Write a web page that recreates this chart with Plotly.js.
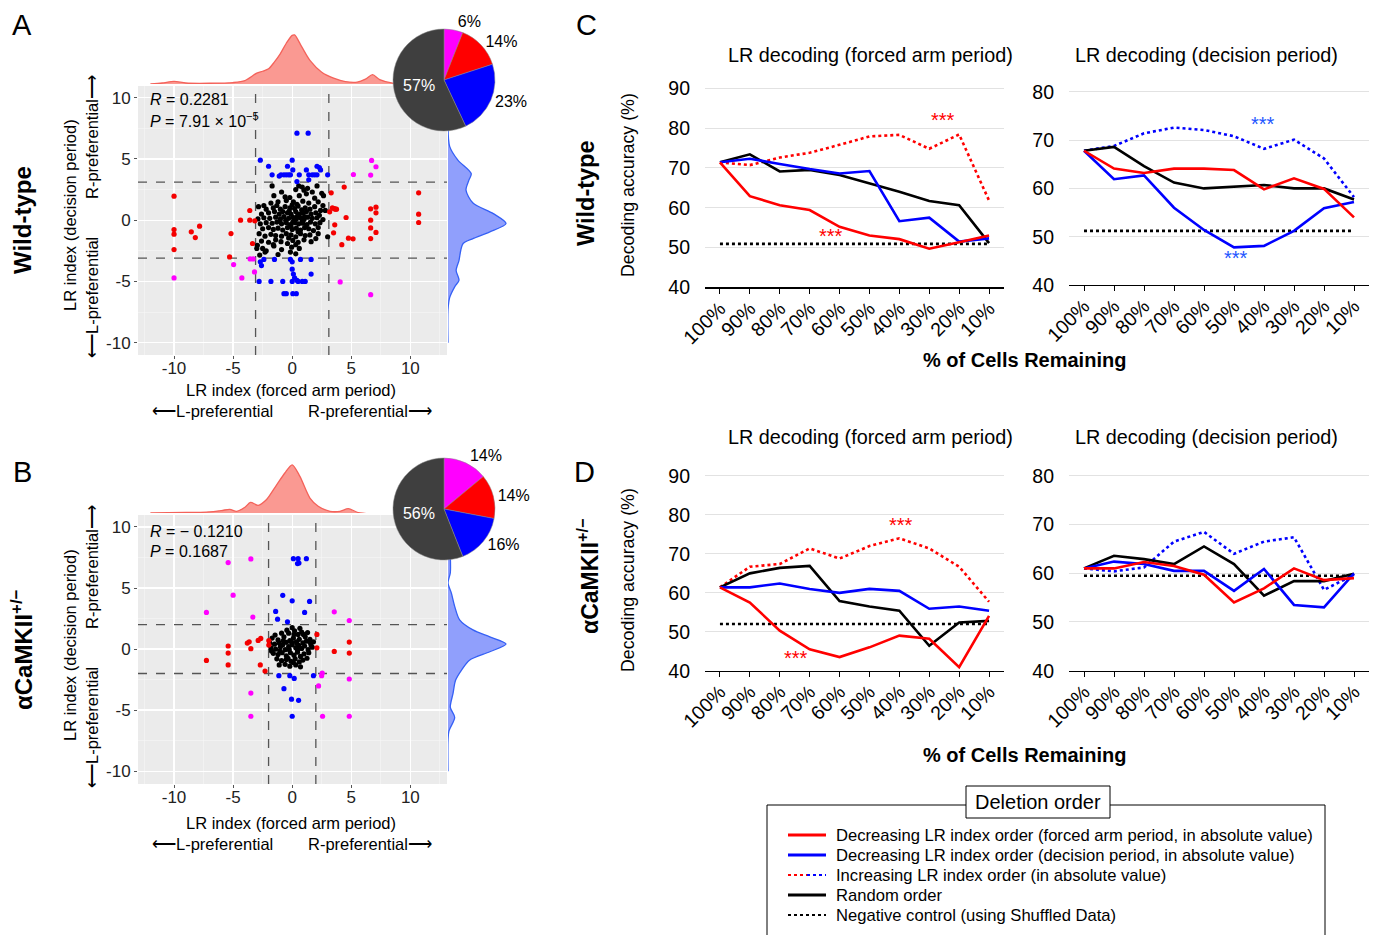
<!DOCTYPE html>
<html><head><meta charset="utf-8">
<script src="https://cdn.plot.ly/plotly-3.0.1.min.js"></script>
<style>html,body{margin:0;padding:0;background:#fff}#chart{width:1376px;height:935px}</style>
</head><body><div id="chart"></div>
<script>
// ---------------- DATA ----------------
const pctLabels = ['100%','90%','80%','70%','60%','50%','40%','30%','20%','10%'];
const yTicksFA = [40,50,60,70,80,90];
const yTicksDP = [40,50,60,70,80];
const scatterTicks = [-10,-5,0,5,10];
const scatterTickText = ['-10','-5','0','5','10'];

// Wild-type, LR decoding (forced arm period)
const wtFA_decFA = [71.4,62.9,60.6,59.4,55.2,53.0,52.1,49.7,51.3,53.0];
const wtFA_decDP = [71.4,72.3,71.0,69.7,68.6,69.2,56.6,57.5,51.5,52.3];
const wtFA_inc   = [71.4,70.7,72.6,73.8,75.8,77.9,78.3,74.8,78.4,61.8];
const wtFA_rand  = [71.4,73.4,69.1,69.5,68.2,66.1,64.0,61.7,60.6,51.1];
const wtFA_shuf  = [50.9,50.9,50.9,50.9,50.9,50.9,50.9,50.9,50.9,50.9];
const wtFA_sig   = [[7.46,82.0],[3.73,53.0]];
// Wild-type, LR decoding (decision period)
const wtDP_decFA = [67.8,64.1,63.2,64.1,64.1,63.8,59.8,62.1,59.9,54.0];
const wtDP_decDP = [67.8,61.9,62.7,56.0,51.4,47.8,48.1,51.2,55.9,57.2];
const wtDP_inc   = [67.8,68.8,71.4,72.6,72.1,70.8,68.2,70.1,66.2,58.2];
const wtDP_rand  = [67.8,68.6,64.6,61.2,60.0,60.3,60.7,60.0,60.0,57.7];
const wtDP_shuf  = [51.2,51.2,51.2,51.2,51.2,51.2,51.2,51.2,51.2,51.2];
const wtDP_sig   = [[5.96,73.4],[5.07,45.6]];
// aCaMKII+/-, LR decoding (forced arm period)
const koFA_decFA = [61.4,57.5,50.3,45.5,43.5,46.0,49.0,48.2,40.9,54.1];
const koFA_decDP = [61.4,61.4,62.4,61.0,60.0,61.0,60.5,55.9,56.5,55.4];
const koFA_inc   = [61.4,66.7,67.4,71.4,68.8,72.0,74.0,71.4,66.7,57.7];
const koFA_rand  = [61.4,65.0,66.4,66.9,57.9,56.5,55.4,46.4,52.4,52.8];
const koFA_shuf  = [52.0,52.0,52.0,52.0,52.0,52.0,52.0,52.0,52.0,52.0];
const koFA_sig   = [[6.04,77.4],[2.56,43.2]];
// aCaMKII+/-, LR decoding (decision period)
const koDP_decFA = [61.0,61.0,62.3,61.5,59.7,54.0,56.9,61.0,58.6,59.0];
const koDP_decDP = [61.0,62.4,61.9,60.5,60.5,56.4,60.9,53.5,53.0,60.0];
const koDP_inc   = [61.0,60.4,61.2,66.5,68.5,64.0,66.5,67.4,56.6,59.7];
const koDP_rand  = [61.0,63.6,62.9,61.9,65.5,61.9,55.4,58.4,58.4,59.9];
const koDP_shuf  = [59.5,59.5,59.5,59.5,59.5,59.5,59.5,59.5,59.5,59.5];

// Pie charts
const pieCats = ['Both','Forced arm only','Decision only','Neither'];
const wtPie = [6,14,23,57];
const koPie = [14,14,16,56];

// Thresholds of LR index
const wtThr = 3.1;
const koThr = 2.0;

// Wild-type LR index scatter [forced arm, decision]
const wtBlue = [[0.4,7.1],[1.35,7.1],[-2.7,4.9],[0,4.9],[-2.0,4.4],[-0.4,4.4],[0.05,4.1],[1.2,4.1],[2.1,4.4],[2.3,4.3],[2.4,4.1],
 [-1.7,3.7],[-1.1,3.6],[-0.95,3.7],[-0.7,3.7],[-0.5,3.7],[-0.3,3.7],[-0.15,3.7],[0.6,3.7],[1.4,3.7],[1.7,3.7],[1.9,3.7],[2.1,3.7],[3.0,3.7],[0.4,3.15],[1.4,3.3],
 [-2.4,-3.2],[-1.5,-3.2],[-0.15,-3.2],[0,-3.4],[0.7,-3.2],[1.6,-3.2],[-2.7,-3.4],[-2.6,-3.7],[0,-4.0],[0.1,-4.4],[0.2,-4.7],[0.4,-4.9],[1.6,-4.4],
 [-2.8,-5.0],[-1.8,-5.0],[-0.8,-5.0],[0,-5.0],[0.5,-5.0],[0.85,-5.0],[1.1,-5.0],[-0.7,-6.0],[-0.5,-6.0],[0.05,-6.0],[0.35,-6.0]];
const wtRed = [[-10,1.96],[-10,-0.76],[-10,-1.14],[-10,-2.4],[-8.54,-0.95],[-8.2,-1.42],[-7.84,-0.49],[-5.18,-1.09],[-5.3,-3.0],[-4.37,0],[-3.59,0.79],[-3.59,0],[-3.17,-0.05],[-3.36,-1.9],
 [3.3,2.23],[4.4,2.7],[3.4,1.0],[3.55,0.95],[3.65,0.9],[3.75,0.9],[3.17,0.68],[3.6,-0.38],[4.56,0.22],[3.5,-1.03],[4.2,-2.0],[4.76,-1.47],[5.15,-1.52],
 [6.64,0.93],[7.09,1.06],[7.09,0.6],[6.64,0],[6.64,-0.63],[6.64,-1.5],[7.09,-1.0],[10.7,2.23],[10.7,0.49],[10.7,-0.19]];
const wtMagenta = [[6.72,4.88],[7.09,4.36],[6.64,3.68],[5.18,3.73],[-10,-4.71],[-4.96,-3.62],[-4.26,-4.71],[-3.19,-4.22],[-3.56,-3.16],[-3.3,-3.16],[4.06,-5.04],[6.64,-6.08]];
const wtBlack = [[-1.7,2.8],[0.55,2.8],[0.85,2.7],[2.1,2.8],[1.3,2.6],[-0.9,2.3],[1.0,2.45],[1.7,2.3],[0.3,2.5],[2.5,2.2],
 [-1.55,2.0],[-0.2,1.85],[1.2,2.15],[2.65,2.0],[0.6,2.0],[-0.6,1.9],[1.9,1.8],
 [-1.8,1.4],[-1.2,1.5],[-0.5,1.6],[0.1,1.5],[0.4,1.3],[0.9,1.55],[1.4,1.4],[2.2,1.5],[-2.4,1.2],[2.6,1.2],
 [-2.85,1.1],[-2.2,0.9],[-1.6,1.0],[-1.0,0.9],[-0.6,1.1],[-0.2,1.0],[0.2,0.95],[0.5,1.15],[0.8,0.85],[1.1,1.0],[1.5,0.9],[1.9,1.1],[2.4,0.8],[2.8,0.8],[-1.3,1.2],[0.0,1.25],
 [-2.6,0.5],[-2.0,0.6],[-1.5,0.7],[-1.1,0.5],[-0.8,0.7],[-0.4,0.6],[-0.1,0.5],[0.3,0.7],[0.6,0.5],[0.9,0.6],[1.2,0.7],[1.6,0.5],[2.0,0.6],[2.3,0.4],[-0.25,0.75],[0.45,0.35],[1.05,0.3],
 [-2.9,0.1],[-2.4,0.2],[-1.9,0.15],[-1.4,0.25],[-1.0,0.1],[-0.7,0.3],[-0.3,0.15],[0.05,0.25],[0.35,0.1],[0.7,0.2],[1.0,0.05],[1.3,0.25],[1.7,0.15],[2.1,0.2],[2.6,0.05],[-0.55,0.0],[0.15,-0.05],[0.85,-0.05],
 [-2.7,-0.3],[-2.2,-0.2],[-1.7,-0.25],[-1.3,-0.15],[-0.9,-0.3],[-0.5,-0.2],[-0.15,-0.35],[0.25,-0.2],[0.55,-0.3],[0.9,-0.25],[1.25,-0.35],[1.55,-0.15],[1.95,-0.3],[2.35,-0.2],[0.05,-0.15],[-1.05,-0.05],
 [-2.5,-0.7],[-2.0,-0.6],[-1.6,-0.75],[-1.2,-0.65],[-0.8,-0.8],[-0.4,-0.6],[0.0,-0.75],[0.35,-0.65],[0.7,-0.8],[1.05,-0.6],[1.4,-0.7],[1.8,-0.85],[2.2,-0.6],[-0.1,-0.5],[0.5,-0.95],
 [-2.8,-1.1],[-2.3,-1.3],[-1.8,-1.15],[-1.4,-1.25],[-0.9,-1.3],[-0.5,-1.1],[-0.1,-1.2],[0.3,-1.35],[0.7,-1.1],[1.1,-1.25],[1.5,-1.2],[2.2,-1.1],[3.0,-1.35],[-0.3,-1.45],
 [-2.6,-1.7],[-2.0,-1.8],[-1.4,-1.6],[-0.95,-1.75],[-0.4,-1.9],[0.05,-1.65],[0.5,-1.8],[1.0,-1.6],[1.6,-1.75],[2.0,-1.5],[-1.6,-2.0],
 [-2.95,-2.05],[-2.5,-2.3],[-1.55,-2.1],[-0.9,-2.4],[-0.05,-2.2],[0.6,-2.3],[-2.2,-2.5],[0.3,-2.0],
 [-3.0,-2.3],[-2.75,-2.85],[-2.3,-2.6],[-0.15,-2.6],[0.3,-2.75],[-1.2,-2.8]];

// aCaMKII+/- LR index scatter
const koBlue = [[0.1,7.4],[0.5,7.4],[1.2,7.4],[0.45,7.0],[0.57,7.05],[-0.8,4.4],[0,3.95],[1.47,3.9],[-1.4,3.08],[1.05,3.0],[-1.24,2.45],[-0.4,2.23],
 [-1.13,-2.18],[-0.2,-2.18],[0.17,-2.4],[1.8,-2.18],[-0.7,-3.24],[-0.06,-4.1],[0.54,-4.2],[0,-5.5]];
const koRed = [[-7.26,-0.93],[-5.42,0.25],[-5.42,-0.33],[-5.42,-1.3],[-3.8,0.49],[-3.64,0.6],[-3.5,0.03],[-2.88,0.71],[-2.66,0.87],[-2.7,-1.3],[-2.3,-1.8],
 [-1.98,0.7],[-1.98,0.33],[2.09,1.2],[2.09,0.1],[3.56,-0.19],[4.83,0.57],[4.83,-0.33]];
const koMagenta = [[-5.42,7.08],[-3.5,7.38],[-5.0,4.41],[-7.26,3.0],[-3.33,2.62],[3.56,3.05],[4.83,2.34],[2.54,-1.96],[2.49,-2.18],[2.23,-3.02],[4.83,-2.45],[-3.5,-3.6],[-3.5,-5.5],[2.57,-5.5],[4.83,-5.5]];
const koBlack = [[-1.7,0.9],[-1.2,0.75],[-0.7,1.0],[-0.3,1.3],[0.0,1.75],[0.2,1.5],[0.5,1.2],[0.8,1.4],[1.1,1.0],[1.5,0.8],[1.8,0.6],
 [-1.9,0.5],[-1.5,0.4],[-1.1,0.5],[-0.8,0.35],[-0.5,0.55],[-0.2,0.7],[0.1,0.9],[0.35,0.6],[0.6,0.8],[0.9,0.5],[1.2,0.65],[1.6,0.3],
 [-1.8,0.1],[-1.4,0.0],[-1.0,0.2],[-0.6,-0.05],[-0.3,0.2],[0.0,0.35],[0.3,0.1],[0.55,0.3],[0.8,0.05],[1.05,0.25],[1.35,-0.05],[1.7,0.15],
 [-1.6,-0.35],[-1.2,-0.45],[-0.85,-0.3],[-0.5,-0.55],[-0.15,-0.3],[0.15,-0.5],[0.45,-0.25],[0.7,-0.6],[1.0,-0.4],[1.4,-0.3],
 [-1.3,-0.8],[-0.9,-0.95],[-0.5,-0.85],[-0.1,-1.0],[0.25,-0.8],[0.6,-1.05],[0.9,-0.9],
 [-1.1,-1.3],[-0.6,-1.25],[-0.2,-1.4],[0.3,-1.3],[0.7,-1.45],[0.1,-1.1],
 [-0.45,1.55],[0.65,1.7],[-0.9,1.3],[1.3,1.35],[-1.45,1.15],[0.15,1.2],[-0.05,0.55],[0.45,-0.05],[-0.75,0.7],[1.25,-0.75],[-1.75,-0.15],[-0.35,-0.75],[0.95,1.2],[0.4,0.45],[-0.25,-0.05],[-1.05,-0.15],[1.55,0.5]];

// Marginal densities (relative height, peak = 1)
const wtTopGrid = [-12,-11,-10,-9,-7,-5,-4,-3,-2.5,-2,-1.5,-1,-0.5,0,0.2,0.8,1.5,2.5,3.5,4.5,5.5,6.2,6.8,7.4,8.5,10,10.8,11.5,13];
const wtTopDen  = [0,0.02,0.055,0.02,0.015,0.03,0.07,0.22,0.26,0.31,0.45,0.62,0.83,0.99,1.0,0.76,0.48,0.24,0.12,0.05,0.04,0.1,0.19,0.09,0.02,0.015,0.03,0.01,0];
const wtRightGrid = [7.6,6.0,4.9,3.8,3.27,2.45,1.4,0.54,-0.27,-0.95,-1.5,-1.9,-2.45,-3.27,-4.1,-4.9,-5.4,-6.3,-7.3,-10];
const wtRightDen  = [0,0.03,0.17,0.40,0.36,0.31,0.43,0.78,1.0,0.72,0.43,0.26,0.22,0.19,0.14,0.19,0.12,0.03,0,0];
const koTopGrid = [-12,-9,-7.26,-6,-5.28,-4.7,-4,-3.53,-2.88,-2.17,-1.33,-0.62,0,0.65,1.5,2.2,3.2,4.04,4.75,5.73,13];
const koTopDen  = [0,0.01,0.02,0.05,0.077,0.035,0.12,0.22,0.16,0.28,0.58,0.83,1.0,0.76,0.31,0.14,0.035,0.035,0.09,0,0];
const koRightGrid = [7.6,6.25,5.4,4.6,3.5,2.4,1.57,1.0,0.41,-0.22,-0.91,-1.74,-2.56,-3.65,-4.77,-5.6,-6.7,-7.5,-10];
const koRightDen  = [0.04,0.04,0.0,0.057,0.115,0.2,0.43,0.72,1.0,0.72,0.37,0.23,0.13,0.086,0.04,0.115,0.017,0,0];

// ---------------- LAYOUT HELPERS ----------------
const W = 1376, H = 935;
const FONT = 'Liberation Sans, Arial, Helvetica, sans-serif';
const px = v => v / W;
const py = v => 1 - v / H;
const RED = '#FF0000', BLUE = '#0000FF', MAG = '#FF00FF';

function ann(text, x, y, size, extra) {
  const f = {family: FONT, size: size, color: (extra && extra.color) || '#000'};
  const a = {text, x: px(x), y: py(y), xref: 'paper', yref: 'paper', showarrow: false,
    xanchor: 'center', yanchor: 'middle', font: f};
  if (extra) { for (const k in extra) if (k !== 'color') a[k] = extra[k]; }
  return a;
}

const traces = [];
const layout = {
  width: W, height: H, margin: {l: 0, r: 0, t: 0, b: 0},
  paper_bgcolor: '#fff', plot_bgcolor: 'rgba(0,0,0,0)', showlegend: false,
  font: {family: FONT, color: '#000'}, shapes: [], annotations: []
};

// ---------- scatter panels ----------
const SX_RANGE = [-13.05, 13.1];
function scatterAxes(n, top, bottom, yRange) {
  const sfx = n === 1 ? '' : String(n);
  const common = {
    tickvals: scatterTicks, ticktext: scatterTickText, showgrid: true, gridcolor: '#FFFFFF', gridwidth: 1.3,
    minor: {tickvals: [-12.5,-7.5,-2.5,2.5,7.5,12.5], showgrid: true, gridcolor: '#F6F6F6', gridwidth: 0.6},
    zeroline: false, showline: false, ticks: 'outside', ticklen: 3, tickcolor: '#555',
    tickfont: {family: FONT, size: 17, color: '#222'}, fixedrange: true
  };
  layout['xaxis' + sfx] = Object.assign({}, common, {domain: [px(138), px(447)], range: SX_RANGE, anchor: 'y' + sfx, ticklabelstandoff: -5});
  layout['yaxis' + sfx] = Object.assign({}, common, {domain: [py(bottom), py(top)], range: yRange, anchor: 'x' + sfx, ticklabelstandoff: 0});
}

function scatterPanel(n, top, bottom, yRange, thr, black, blue, red, mag, dens) {
  scatterAxes(n, top, bottom, yRange);
  const sfx = n === 1 ? '' : String(n);
  const xa = 'x' + sfx, ya = 'y' + sfx;
  layout.shapes.push({type: 'rect', xref: 'paper', yref: 'paper', x0: px(138), x1: px(447), y0: py(bottom), y1: py(top),
    fillcolor: '#EBEBEB', line: {width: 0}, layer: 'below'});
  // dashed threshold lines (drawn as traces so points lie above them)
  traces.push({type: 'scatter', mode: 'lines', xaxis: xa, yaxis: ya, hoverinfo: 'skip',
    x: [-thr, -thr, null, thr, thr, null, SX_RANGE[0], SX_RANGE[1], null, SX_RANGE[0], SX_RANGE[1]],
    y: [yRange[0], yRange[1], null, yRange[0], yRange[1], null, -thr, -thr, null, thr, thr],
    line: {color: '#555', width: 1.3, dash: 'dash'}});
  const grp = [[black, '#000000'], [blue, BLUE], [red, '#F40000'], [mag, MAG]];
  grp.forEach(([list, c]) => traces.push({type: 'scatter', mode: 'markers', x: list.map(p => p[0]), y: list.map(p => p[1]),
    xaxis: xa, yaxis: ya, marker: {color: c, size: 5.2}, hoverinfo: 'skip'}));
  // marginal densities
  const tx = 'xaxis' + (n + 1), ty = 'yaxis' + (n + 1), rx = 'xaxis' + (n + 2), ry = 'yaxis' + (n + 2);
  layout[tx] = {domain: [px(138), px(447)], range: SX_RANGE, visible: false, anchor: 'y' + (n + 1), fixedrange: true};
  layout[ty] = {domain: [py(top - 2), py(top - 56)], range: [0, dens.topRange], visible: false, anchor: 'x' + (n + 1), fixedrange: true};
  layout[rx] = {domain: [px(448), px(520)], range: [0, 1.24], visible: false, anchor: 'y' + (n + 2), fixedrange: true};
  layout[ry] = {domain: [py(bottom), py(top)], range: yRange, visible: false, anchor: 'x' + (n + 2), fixedrange: true};
  traces.push({type: 'scatter', mode: 'lines', x: dens.tg, y: dens.td, fill: 'tozeroy', fillcolor: 'rgba(248,110,100,0.7)',
    line: {color: '#F4625A', width: 1.3, shape: 'spline', smoothing: 0.8}, xaxis: 'x' + (n + 1), yaxis: 'y' + (n + 1), hoverinfo: 'skip'});
  traces.push({type: 'scatter', mode: 'lines', x: dens.rd, y: dens.rg, fill: 'tozerox', fillcolor: 'rgba(70,95,250,0.6)',
    line: {color: '#3560F5', width: 1.3, shape: 'spline', smoothing: 0.8}, xaxis: 'x' + (n + 2), yaxis: 'y' + (n + 2), hoverinfo: 'skip'});
}

scatterPanel(1, 86, 355, [-11.0, 10.95], wtThr, wtBlack, wtBlue, wtRed, wtMagenta,
  {tg: wtTopGrid, td: wtTopDen, rg: wtRightGrid, rd: wtRightDen, topRange: 1.1});
scatterPanel(4, 515, 784, [-11.05, 10.98], koThr, koBlack, koBlue, koRed, koMagenta,
  {tg: koTopGrid, td: koTopDen, rg: koRightGrid, rd: koRightDen, topRange: 1.12});

// pies
function pie(vals, top, bottom) {
  traces.push({type: 'pie', values: vals, labels: pieCats, sort: false, direction: 'clockwise', rotation: 0,
    marker: {colors: [MAG, RED, BLUE, '#3F3F3F'], line: {color: '#888', width: 0.5}},
    texttemplate: '%{value}%', textposition: ['outside', 'outside', 'outside', 'inside'],
    insidetextorientation: 'horizontal',
    outsidetextfont: {family: FONT, size: 16, color: '#000'}, insidetextfont: {family: FONT, size: 16, color: '#fff'},
    domain: {x: [px(393), px(495)], y: [py(bottom), py(top)]}, hoverinfo: 'skip', showlegend: false});
}
pie(wtPie, 29, 131);
pie(koPie, 458, 560);

// ---------- line charts ----------
function linePanel(n, xDom, yTop, yBottom, yRange, yTicks, series, dottedColor, sig, sigColor) {
  const xa = 'x' + n, ya = 'y' + n;
  layout['xaxis' + n] = {domain: [px(xDom[0]), px(xDom[1])], type: 'category', categoryarray: pctLabels, range: [-0.5, 9.5],
    showline: true, linecolor: '#000', linewidth: 1.3, ticks: 'outside', ticklen: 5, tickcolor: '#000', tickwidth: 1,
    tickangle: -45, tickfont: {family: FONT, size: 19.5, color: '#000'}, ticklabelstandoff: -4,
    showgrid: false, zeroline: false, anchor: ya, fixedrange: true};
  layout['yaxis' + n] = {domain: [py(yBottom), py(yTop)], range: yRange, tickvals: yTicks, showgrid: true, gridcolor: '#E2E2E2',
    gridwidth: 1, zeroline: false, showline: false, ticks: '', ticklabelstandoff: 14,
    tickfont: {family: FONT, size: 19.5, color: '#000'}, anchor: xa, fixedrange: true};
  const [decFA, decDP, inc, rand, shuf] = series;
  const mk = (y, color, dash) => ({type: 'scatter', mode: 'lines', x: pctLabels, y, xaxis: xa, yaxis: ya,
    line: {color, width: 2.6, dash}, hoverinfo: 'skip'});
  traces.push(mk(shuf, '#000', 'dot'));
  traces.push(mk(inc, dottedColor, 'dot'));
  traces.push(mk(rand, '#000', 'solid'));
  traces.push(mk(decDP, BLUE, 'solid'));
  traces.push(mk(decFA, RED, 'solid'));
  sig.forEach(s => layout.annotations.push({text: '***', x: s[0], y: s[1], xref: xa, yref: ya, showarrow: false,
    font: {family: FONT, size: 20, color: sigColor}, xanchor: 'center', yanchor: 'middle'}));
}
linePanel(7, [705, 1004], 84.3, 287.3, [40, 91], yTicksFA, [wtFA_decFA, wtFA_decDP, wtFA_inc, wtFA_rand, wtFA_shuf], RED, wtFA_sig, RED);
linePanel(8, [1069, 1369], 87, 285, [40, 81], yTicksDP, [wtDP_decFA, wtDP_decDP, wtDP_inc, wtDP_rand, wtDP_shuf], BLUE, wtDP_sig, '#2255FF');
linePanel(9, [705, 1004], 472.1, 670.7, [40, 91], yTicksFA, [koFA_decFA, koFA_decDP, koFA_inc, koFA_rand, koFA_shuf], RED, koFA_sig, RED);
linePanel(10, [1069, 1369], 471, 670.7, [40, 81], yTicksDP, [koDP_decFA, koDP_decDP, koDP_inc, koDP_rand, koDP_shuf], BLUE, [], BLUE);

// ---------- text ----------
const A = layout.annotations;
[['A', 22, 25], ['B', 22, 472], ['C', 586, 25], ['D', 584, 472]].forEach(l => A.push(ann(l[0], l[1], l[2], 29)));
A.push(ann('<b>Wild-type</b>', 22, 220, 24, {textangle: -90}));
A.push(ann('<b>αCaMKII<sup>+/−</sup></b>', 22, 650, 24, {textangle: -90}));
A.push(ann('<b>Wild-type</b>', 586, 193, 23.5, {textangle: -90}));
A.push(ann('<b>αCaMKII<sup>+/−</sup></b>', 588, 577, 23, {textangle: -90}));
[185, 580].forEach(y => A.push(ann('Decoding accuracy (%)', 628, y, 17.8, {textangle: -90})));
[[870, 55, 'LR decoding (forced arm period)'], [1206, 55, 'LR decoding (decision period)'],
 [870, 437, 'LR decoding (forced arm period)'], [1206, 437, 'LR decoding (decision period)']].forEach(t => A.push(ann(t[2], t[0], t[1], 19.8)));
[360, 755].forEach(y => A.push(ann('<b>% of Cells Remaining</b>', 1024, y, 20)));

[0, 430].forEach(d => {
  const e = d ? 3 : 0;
  A.push(ann('LR index (decision period)', 70, 215 + d, 16.5, {textangle: -90}));
  A.push(ann('R-preferential⟶', 92, 137 + d, 16.5, {textangle: -90}));
  A.push(ann('⟵L-preferential', 92, 297 + d, 16.5, {textangle: -90}));
  A.push(ann('LR index (forced arm period)', 291, 390 + d + e, 16.5));
  A.push(ann('⟵L-preferential', 212, 411 + d + e, 16.5));
  A.push(ann('R-preferential⟶', 370, 411 + d + e, 16.5));
});
A.push(ann('<i>R</i> = 0.2281', 148, 100, 16, {xanchor: 'left'}));
A.push(ann('<i>P</i> = 7.91 × 10<sup>−5</sup>', 148, 120, 16, {xanchor: 'left'}));
A.push(ann('<i>R</i> = − 0.1210', 148, 531, 16, {xanchor: 'left'}));
A.push(ann('<i>P</i> = 0.1687', 148, 551, 16, {xanchor: 'left'}));

// ---------- legend (drawn) ----------
const S = layout.shapes;
S.push({type: 'rect', xref: 'paper', yref: 'paper', x0: px(767), x1: px(1325), y0: py(945), y1: py(805), line: {color: '#000', width: 1}, fillcolor: 'rgba(0,0,0,0)', layer: 'below'});
S.push({type: 'rect', xref: 'paper', yref: 'paper', x0: px(966), x1: px(1110), y0: py(818), y1: py(786), line: {color: '#000', width: 1}, fillcolor: '#fff', layer: 'below'});
A.push(ann('Deletion order', 1038, 802, 20));
const legRows = [
  ['Decreasing LR index order (forced arm period, in absolute value)', [[RED, 'solid', 788, 826]]],
  ['Decreasing LR index order (decision period, in absolute value)', [[BLUE, 'solid', 788, 826]]],
  ['Increasing LR index order (in absolute value)', [[RED, 'dot', 788, 807], [BLUE, 'dot', 807, 826]]],
  ['Random order', [['#000', 'solid', 788, 826]]],
  ['Negative control (using Shuffled Data)', [['#000', 'dot', 788, 826]]]
];
legRows.forEach((r, i) => {
  const y = 835 + i * 20;
  r[1].forEach(seg => S.push({type: 'line', xref: 'paper', yref: 'paper', x0: px(seg[2]), x1: px(seg[3]), y0: py(y), y1: py(y),
    line: {color: seg[0], width: seg[1] === 'dot' ? 2.2 : 3, dash: seg[1]}, layer: 'below'}));
  A.push(ann(r[0], 834, y, 16.6, {xanchor: 'left'}));
});

Plotly.newPlot('chart', traces, layout, {staticPlot: true, displayModeBar: false});
</script></body></html>
